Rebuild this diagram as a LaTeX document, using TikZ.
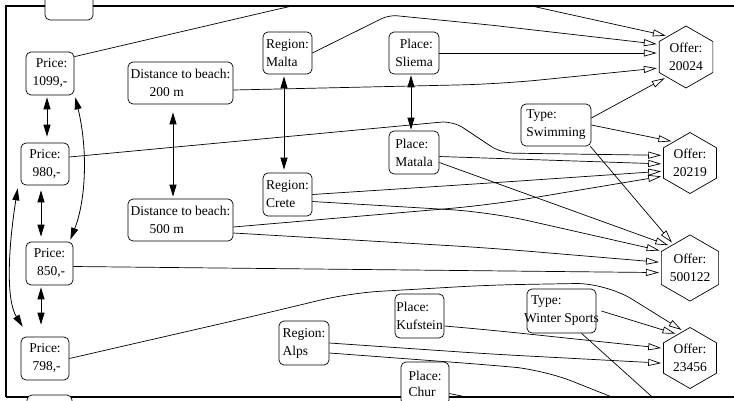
\documentclass[tikz,border=0pt]{standalone}
\usepackage{fontspec}
\setmainfont{Liberation Serif}
\usetikzlibrary{shapes.geometric,arrows.meta}
\begin{document}
\begin{tikzpicture}[x=1pt,y=-1pt,
  lbl/.style={font=\fontsize{13.5}{18}\selectfont},
  attr/.style={lbl, draw, rounded corners=5pt, fill=white, line width=0.7pt, inner sep=0pt},
  offer/.style={lbl, draw, fill=white, regular polygon, regular polygon sides=6,
    shape border rotate=30, minimum size=62pt, inner sep=0pt, line width=0.7pt, align=center},
  dom/.style={line width=0.8pt, {Triangle[length=12pt,width=7pt]}-{Triangle[length=12pt,width=7pt]}},
  pref/.style={line width=0.7pt, -{Triangle[open,length=13pt,width=7pt]}, shorten >=2pt},
  frameline/.style={line width=1.2pt}
]
\useasboundingbox (0,0) rectangle (734,400);
\clip (0,0) rectangle (734,400);

% viewport frame
\draw[frameline] (5,6) -- (734,6);
\draw[frameline] (6,6) -- (6,397);
\draw[frameline] (6,397) -- (734,397);

% attribute nodes
\node[attr, minimum width=48pt, minimum height=43pt] (ptop) at (69,-1.5) {};
\node[attr, minimum width=48pt, minimum height=43pt, align=right] (p1099) at (50,73.5) {Price:\\1099,-};
\node[attr, minimum width=48pt, minimum height=42pt, align=right] (p980) at (45,164) {Price:\\980,-};
\node[attr, minimum width=47pt, minimum height=43pt, align=right] (p850) at (49.5,263.5) {Price:\\850,-};
\node[attr, minimum width=48pt, minimum height=43pt, align=right] (p798) at (45,358.5) {Price:\\798,-};
\node[attr, minimum width=45pt, minimum height=43pt] (pbot) at (49.5,416.5) {};

\node[attr, minimum width=105pt, minimum height=42pt, align=left] (d200) at (180.5,83) {Distance to beach:\\\hspace*{19pt}200 m};
\node[attr, minimum width=105pt, minimum height=42pt, align=left] (d500) at (180.5,220) {Distance to beach:\\\hspace*{19pt}500 m};

\node[attr, minimum width=49pt, minimum height=42pt, align=left] (malta) at (287.5,53) {Region:\\Malta};
\node[attr, minimum width=49pt, minimum height=43pt, align=left] (crete) at (287.5,194.5) {Region:\\Crete};
\node[attr, minimum width=50pt, minimum height=44pt, align=left] (alps) at (304,343) {Region:\\Alps};

\node[attr, minimum width=50pt, minimum height=42pt, align=right] (sliema) at (414,53) {Place:\\Sliema};
\node[attr, minimum width=50pt, minimum height=43pt, align=left] (matala) at (414,152.5) {Place:\\Matala};
\node[attr, minimum width=49pt, minimum height=44pt, align=left] (kuf) at (419.5,316) {Place:\\Kufstein};
\node[attr, minimum width=48pt, minimum height=43pt, align=left, font=\fontsize{13.5}{16}\selectfont] (chur) at (425,383.5) {Place:\\Chur};

\node[attr, minimum width=70pt, minimum height=42pt, align=left] (swim) at (556,125) {Type:\\Swimming};
\node[attr, minimum width=69pt, minimum height=44pt, inner xsep=-3pt, align=left] (ws) at (561.5,311) {\hspace*{7pt}Type:\\Winter Sports};

% offers
\node[offer] (o1) at (686,57) {Offer:\\20024};
\node[offer, minimum size=61pt] (o2) at (690,163) {Offer:\\20219};
\node[offer, minimum size=61pt] (o3) at (690,268) {Offer:\\500122};
\node[offer, minimum size=61pt] (o4) at (690,358) {Offer:\\23456};

% targets lying below the visible area
\coordinate (off1) at (720,440);
\coordinate (off2) at (570,418);
\coordinate (off3) at (700,440);

\begin{scope}
\clip (6,6) rectangle (734,397);

% dominance between attribute values
\draw[dom] ([xshift=-3,yshift=-2]p1099.south) -- ([xshift=2,yshift=6]p980.north);
\draw[dom] ([xshift=1,yshift=-2]p1099.south east) .. controls (88,150) and (86,200) .. ([xshift=-3,yshift=2]p850.north east);
\draw[dom] ([xshift=-4,yshift=-5]p980.south) -- ([xshift=-8.5,yshift=5]p850.north);
\draw[dom] ([xshift=-3,yshift=-3]p980.south west) .. controls (8,250) and (6,300) .. ([xshift=2,yshift=10]p798.north west);
\draw[dom] ([xshift=-8.5,yshift=-2]p850.south) -- ([xshift=-4,yshift=12]p798.north);
\draw[dom] ([xshift=-7.5,yshift=-8]d200.south) -- ([xshift=-7.5,yshift=2]d500.north);
\draw[dom] ([xshift=-3.5,yshift=-2]malta.south) -- ([xshift=-3.5,yshift=3]crete.north);
\draw[dom] ([xshift=-3,yshift=-1]sliema.south) -- ([xshift=-3,yshift=1]matala.north);

% attribute values of the offers
\draw[pref, rounded corners=30pt] ([yshift=-5]p1099.north east) -- (300,4) -- (420,-20) -- (527,5) -- (o1.131);
\draw[pref, rounded corners=8pt] (malta.east) -- (389,15) -- (490,25) -- (o1.155);
\draw[pref] (sliema.east) -- (sliema.east -| o1.west);
\draw[pref, rounded corners=40pt] ([yshift=-7]d200.east) -- (500,84) -- (o1.202);
\draw[pref] ([yshift=7]swim.east) -- (o1.226);

\draw[pref] (swim.east) -- (o2.128);
\draw[pref, rounded corners=12pt] ([yshift=7]p980.east) -- (453,121) -- (501,153) -- (o2.164);
\draw[pref] ([yshift=-4]matala.east) -- (o2.182);
\draw[pref, rounded corners=40pt] (crete.east) -- (490,183) -- (o2.197);
\draw[pref, rounded corners=40pt] ([yshift=-7]d500.east) -- (490,205) -- (o2.206);

\draw[pref] ([xshift=-1]swim.south east) -- (o3.125);
\draw[pref] ([yshift=-10]matala.east) -- (o3.132);
\draw[pref, rounded corners=40pt] ([yshift=-7]crete.east) -- (490,212) -- (o3.149);
\draw[pref, rounded corners=40pt] ([yshift=-13]d500.east) -- (490,248) -- (o3.169);
\draw[pref] ([yshift=-3]p850.east) -- (o3.189);

\draw[pref, rounded corners=30pt] (p798.east) -- (250,317) -- (350,293) -- (490,285) -- (606,283) -- (o4.104);
\draw[pref] ([xshift=5]ws.east) -- (o4.118);
\draw[pref, rounded corners=30pt] ([yshift=-10]kuf.east) -- (490,330) -- (o4.160);
\draw[pref, rounded corners=30pt] (alps.east) -- (490,354) -- (o4.191);

\draw[pref, rounded corners=30pt] ([yshift=-10]alps.east) -- (490,365) -- (544,370) -- (off1);
\draw[pref] ([yshift=-10]chur.east) -- (off2);
\draw[pref] ([xshift=20]ws.south) -- (off3);
\end{scope}
\end{tikzpicture}
\end{document}
